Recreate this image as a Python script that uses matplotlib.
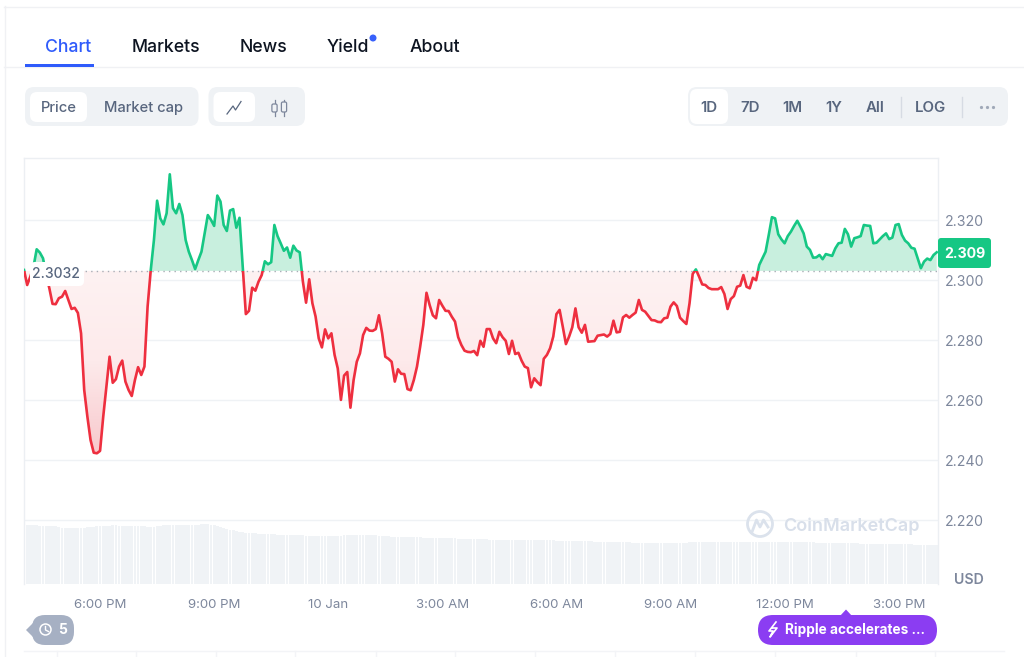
import matplotlib
matplotlib.use("Agg")
import matplotlib.pyplot as plt
import matplotlib.dates as mdates
import numpy as np
import pandas as pd

from matplotlib.colors import LinearSegmentedColormap
from matplotlib.patches import Circle, FancyBboxPatch, PathPatch, Polygon, Rectangle
from matplotlib.path import Path

plt.rcParams['font.family'] = ['Inter', 'DejaVu Sans']

# Price, one value every 5 minutes from 16:00
prices = [
    2.3035, 2.2985, 2.3013, 2.3046, 2.3104, 2.3093, 2.3074, 2.3018, 2.2974, 2.2922, 2.2921, 2.2941,
    2.2946, 2.2965, 2.2935, 2.2905, 2.2909, 2.2892, 2.2824, 2.2635, 2.2546, 2.2468, 2.2426, 2.2424,
    2.2432, 2.2546, 2.2646, 2.2746, 2.2659, 2.2671, 2.2713, 2.2733, 2.2663, 2.2635, 2.2615, 2.2668,
    2.2711, 2.2685, 2.2713, 2.2913, 2.3035, 2.3135, 2.3266, 2.3207, 2.3187, 2.3224, 2.3354, 2.3241,
    2.3224, 2.3255, 2.3218, 2.3135, 2.3096, 2.3068, 2.3038, 2.3068, 2.3096, 2.3157, 2.3218, 2.3202,
    2.3182, 2.3283, 2.3263, 2.3185, 2.3165, 2.3233, 2.3238, 2.3176, 2.3209, 2.3046, 2.2888, 2.2899,
    2.2976, 2.2966, 2.2996, 2.3018, 2.3064, 2.3054, 2.3061, 2.3185, 2.3148, 2.3124, 2.3099, 2.3110,
    2.3076, 2.3116, 2.3100, 2.3094, 2.2996, 2.2926, 2.3004, 2.2924, 2.2880, 2.2807, 2.2777, 2.2837,
    2.2807, 2.2824, 2.2752, 2.2707, 2.2602, 2.2683, 2.2695, 2.2576, 2.2668, 2.2729, 2.2757, 2.2818,
    2.2842, 2.2833, 2.2832, 2.2838, 2.2884, 2.2824, 2.2746, 2.2739, 2.2729, 2.2663, 2.2704, 2.2689,
    2.2688, 2.2638, 2.2634, 2.2668, 2.2713, 2.2779, 2.2852, 2.2959, 2.2918, 2.2884, 2.2874, 2.2935,
    2.2916, 2.2899, 2.2898, 2.2879, 2.2863, 2.2811, 2.2785, 2.2766, 2.2762, 2.2761, 2.2765, 2.2751,
    2.2799, 2.2779, 2.2838, 2.2838, 2.2807, 2.2791, 2.2829, 2.2811, 2.2799, 2.2755, 2.2799, 2.2755,
    2.2759, 2.2733, 2.2713, 2.2708, 2.2644, 2.2674, 2.2661, 2.2651, 2.2739, 2.2752, 2.2774, 2.2813,
    2.2888, 2.2902, 2.2846, 2.2788, 2.2813, 2.2844, 2.2907, 2.2844, 2.2826, 2.2852, 2.2796, 2.2797,
    2.2798, 2.2816, 2.2818, 2.2820, 2.2813, 2.2822, 2.2866, 2.2827, 2.2829, 2.2877, 2.2885, 2.2876,
    2.2885, 2.2893, 2.2935, 2.2902, 2.2896, 2.2882, 2.2868, 2.2867, 2.2862, 2.2861, 2.2874, 2.2876,
    2.2913, 2.2927, 2.2915, 2.2876, 2.2865, 2.2855, 2.2924, 2.3022, 2.3037, 2.3013, 2.2987, 2.2985,
    2.2975, 2.2971, 2.2971, 2.2971, 2.2978, 2.2955, 2.2905, 2.2938, 2.2948, 2.2979, 2.2983, 2.3018,
    2.2979, 2.2974, 2.3009, 2.3001, 2.3052, 2.3074, 2.3096, 2.3152, 2.3211, 2.3207, 2.3154, 2.3137,
    2.3124, 2.3148, 2.3163, 2.3182, 2.3199, 2.3179, 2.3157, 2.3113, 2.3102, 2.3076, 2.3077, 2.3085,
    2.3071, 2.3088, 2.3085, 2.3082, 2.3107, 2.3124, 2.3126, 2.3172, 2.3154, 2.3113, 2.3141, 2.3144,
    2.3148, 2.3185, 2.3183, 2.3182, 2.3124, 2.3126, 2.3137, 2.3148, 2.3157, 2.3138, 2.3143, 2.3185,
    2.3188, 2.3152, 2.3133, 2.3124, 2.3109, 2.3106, 2.3074, 2.3041, 2.3063, 2.3073, 2.3068, 2.3085,
    2.3094,
]

# Volume strip at the bottom, same 5 minute steps (billions, estimated)
volumes = [
    5.9, 5.9, 5.9, 5.9, 5.9, 5.8, 5.8, 5.8, 5.8, 5.8, 5.8, 5.7,
    5.6, 5.6, 5.6, 5.6, 5.6, 5.6, 5.6, 5.6, 5.7, 5.7, 5.7, 5.8,
    5.8, 5.8, 5.8, 5.8, 5.9, 5.9, 5.8, 5.8, 5.8, 5.8, 5.8, 5.8,
    5.8, 5.8, 5.8, 5.7, 5.7, 5.7, 5.8, 5.8, 5.9, 5.9, 5.9, 5.9,
    5.9, 5.9, 5.9, 5.9, 5.9, 5.9, 5.9, 5.9, 6.0, 6.0, 6.0, 5.9,
    5.9, 5.8, 5.7, 5.6, 5.5, 5.4, 5.4, 5.3, 5.2, 5.2, 5.1, 5.1,
    5.1, 5.1, 5.0, 5.0, 5.0, 5.0, 5.0, 5.0, 4.9, 4.9, 4.9, 4.9,
    4.9, 4.9, 4.9, 4.9, 4.9, 4.8, 4.8, 4.8, 4.8, 4.8, 4.8, 4.8,
    4.8, 4.8, 4.8, 4.8, 4.8, 4.9, 4.9, 4.9, 4.9, 4.9, 4.9, 4.9,
    4.9, 4.9, 4.9, 4.9, 4.8, 4.8, 4.8, 4.8, 4.7, 4.7, 4.7, 4.7,
    4.7, 4.7, 4.7, 4.7, 4.7, 4.7, 4.6, 4.6, 4.6, 4.6, 4.6, 4.6,
    4.6, 4.6, 4.6, 4.6, 4.6, 4.5, 4.5, 4.5, 4.5, 4.5, 4.5, 4.5,
    4.5, 4.5, 4.5, 4.4, 4.4, 4.4, 4.4, 4.4, 4.4, 4.4, 4.4, 4.4,
    4.4, 4.4, 4.4, 4.4, 4.4, 4.4, 4.4, 4.4, 4.4, 4.4, 4.4, 4.4,
    4.3, 4.3, 4.3, 4.3, 4.3, 4.3, 4.3, 4.3, 4.3, 4.3, 4.3, 4.3,
    4.2, 4.2, 4.2, 4.2, 4.2, 4.2, 4.2, 4.2, 4.2, 4.2, 4.2, 4.2,
    4.1, 4.1, 4.1, 4.1, 4.1, 4.1, 4.1, 4.1, 4.1, 4.1, 4.1, 4.1,
    4.1, 4.1, 4.1, 4.1, 4.1, 4.1, 4.2, 4.2, 4.2, 4.2, 4.2, 4.2,
    4.2, 4.2, 4.2, 4.2, 4.2, 4.2, 4.2, 4.2, 4.2, 4.2, 4.2, 4.2,
    4.2, 4.2, 4.2, 4.2, 4.2, 4.2, 4.2, 4.2, 4.2, 4.2, 4.2, 4.2,
    4.2, 4.2, 4.2, 4.2, 4.2, 4.2, 4.2, 4.2, 4.2, 4.2, 4.1, 4.1,
    4.1, 4.1, 4.1, 4.1, 4.1, 4.1, 4.1, 4.1, 4.1, 4.1, 4.1, 4.1,
    4.0, 4.0, 4.0, 4.0, 4.0, 4.0, 4.0, 4.0, 4.0, 4.0, 4.0, 4.0,
    4.0, 4.0, 4.0, 4.0, 4.0, 3.9, 3.9, 3.9, 3.9, 3.9, 3.9, 3.9,
    3.9,
]

base_price = 2.3032
last_price = "2.309"
y_ticks = [2.22, 2.24, 2.26, 2.28, 2.30, 2.32]
x_tick_times = ["2025-01-09 18:00", "2025-01-09 21:00", "2025-01-10 00:00", "2025-01-10 03:00",
                "2025-01-10 06:00", "2025-01-10 09:00", "2025-01-10 12:00", "2025-01-10 15:00"]
x_tick_labels = ["6:00 PM", "9:00 PM", "10 Jan", "3:00 AM", "6:00 AM", "9:00 AM", "12:00 PM", "3:00 PM"]

tabs = ["Chart", "Markets", "News", "Yield", "About"]
ranges = ["1D", "7D", "1M", "1Y", "All", "LOG"]

GREEN = "#16c784"
RED = "#ee2f3f"
GREY = "#58667e"
TICK = "#7d879c"
GRID = "#eff2f5"

W, H = 1024, 657
fig = plt.figure(figsize=(W / 100, H / 100), dpi=100)
fig.patch.set_facecolor("white")

# Volume strip and price share one rectangle, px 24-938 / 158-584
rect = [24 / W, 1 - 584 / H, 914 / W, 426 / H]
ax_vol = fig.add_axes(rect)
ax = fig.add_axes(rect, sharex=ax_vol)
ax.patch.set_visible(False)

times = pd.date_range("2025-01-09 16:00", periods=len(prices), freq="5min")
xnum = mdates.date2num(times)
prices = np.array(prices)

x_left = xnum[0]
x_right = xnum[-1] + 2 / 1440
y_low = 2.19883
y_high = 2.34083

ax_vol.bar(xnum, volumes, width=4.4 / 1440, color="#f0f3f6", linewidth=0)
ax_vol.set_ylim(0, 42.6)
ax_vol.axis("off")

# Fills either side of the opening price
ax.fill_between(xnum, prices, base_price, where=prices >= base_price, interpolate=True,
                color="#c8efde", linewidth=0, zorder=1)
below = ax.fill_between(xnum, prices, base_price, where=prices <= base_price, interpolate=True,
                        color="none", linewidth=0, zorder=1)
red_path = Path.make_compound_path(*below.get_paths())
red_cmap = LinearSegmentedColormap.from_list("redfade", ["#f8c9cd", "#fdeaeb", "#fef2f2"])
grad = ax.imshow(np.linspace(0, 1, 128).reshape(-1, 1), cmap=red_cmap, aspect="auto", origin="lower",
                 extent=[x_left, x_right, 2.2424, base_price], zorder=1)
grad.set_clip_path(PathPatch(red_path, transform=ax.transData))

for tick in y_ticks:
    ax.axhline(tick, color=GRID, linewidth=1, zorder=0.5)
ax.axhline(base_price, color="#a8adb5", linewidth=1, linestyle=(0, (1, 3)), zorder=2)

# Line changes colour at the opening price
up_line, = ax.plot(xnum, prices, color=GREEN, linewidth=1.9, zorder=3, solid_joinstyle="round")
down_line, = ax.plot(xnum, prices, color=RED, linewidth=1.9, zorder=3, solid_joinstyle="round")
up_line.set_clip_path(Rectangle((x_left, base_price), x_right - x_left, y_high - base_price, transform=ax.transData))
down_line.set_clip_path(Rectangle((x_left, y_low), x_right - x_left, base_price - y_low, transform=ax.transData))

ax.set_xlim(x_left, x_right)
ax.set_ylim(y_low, y_high)
ax.yaxis.tick_right()
ax.set_yticks(y_ticks)
ax.set_yticklabels(["%.3f" % v for v in y_ticks])
ax.set_xticks(mdates.date2num(pd.to_datetime(x_tick_times)))
ax.set_xticklabels(x_tick_labels)
ax.tick_params(axis="y", length=0, pad=5, labelsize=10.2, labelcolor=TICK)
ax.tick_params(axis="x", length=0, pad=11, labelsize=9.5, labelcolor=TICK)
plt.setp(ax_vol.get_xticklabels(), visible=False)
for name, spine in ax.spines.items():
    spine.set_color("#eceff3")
    spine.set_linewidth(1)
    spine.set_visible(name != "bottom")

# Everything around the chart, in pixel coordinates
ui = fig.add_axes([0, 0, 1, 1])
ui.set_xlim(0, W)
ui.set_ylim(H, 0)
ui.axis("off")


def box(x0, y0, x1, y1, radius, color, zorder=2):
    ui.add_patch(FancyBboxPatch((x0 + radius, y0 + radius), x1 - x0 - 2 * radius, y1 - y0 - 2 * radius,
                                boxstyle="round,pad=%f,rounding_size=%f" % (radius, radius),
                                facecolor=color, edgecolor="none", zorder=zorder))


def label(x, y, s, color=GREY, size=10, weight="medium", ha="center"):
    ui.text(x, y, s, color=color, fontsize=size, fontweight=weight, ha=ha, va="center", zorder=5)


# page lines
ui.plot([4, W], [6.5, 6.5], color="#f0f1f4", linewidth=1)
ui.plot([4.5, 4.5], [6, H], color="#f0f1f4", linewidth=1)
ui.plot([4, W], [67, 67], color="#f0f1f4", linewidth=1)
ui.plot([24, W - 20], [651, 651], color="#f3f4f7", linewidth=1)
for x in [57, 136, 216, 295, 376, 455, 535, 615, 695, 775, 856, 935]:
    ui.plot([x, x], [651, H], color="#f3f4f7", linewidth=1)

# tabs
tab_x = [68.5, 165.5, 263.5, 348, 434.5]
for x, name in zip(tab_x, tabs):
    label(x, 47.5, name, color="#2f5bfb" if name == "Chart" else "#0d1421", size=12.7)
ui.add_patch(Rectangle((25, 64), 69, 2.7, facecolor="#2f5bfb", edgecolor="none", zorder=3))
ui.add_patch(Circle((373, 38), 3.5, facecolor="#3861fb", edgecolor="none", zorder=3))

# price / market cap toggle
box(25, 87, 198.5, 126, 9, GRID)
box(30, 92, 87, 122, 7, "white", 3)
label(58.5, 108, "Price", size=10.6)
label(143, 108, "Market cap", size=10.6)

# line / candle toggle
box(208.5, 87, 305, 126, 9, GRID)
box(213.5, 92, 255, 122, 7, "white", 3)
ui.plot([227, 233, 235.5, 241], [114, 106, 110, 101.5], color=GREY, linewidth=0.9, zorder=5)
for cx, y0, y1, t0, t1 in [(274.5, 104, 112, 100, 116), (284, 102, 112, 100, 116)]:
    ui.plot([cx, cx], [t0, t1], color="#7d879c", linewidth=0.9, zorder=4)
    ui.add_patch(FancyBboxPatch((cx - 2.6, y0), 5.2, y1 - y0, boxstyle="round,pad=0,rounding_size=1.5",
                                facecolor=GRID, edgecolor="#7d879c", linewidth=0.9, zorder=5))

# range buttons
box(688, 87, 1008, 126, 9, GRID)
box(690, 89, 728, 124, 7, "white", 3)
for x, name in zip([709, 750, 792.5, 834, 875, 931], ranges):
    label(x, 108, name, size=10.8, weight="semibold")
ui.plot([900.5, 900.5], [97, 117], color="#d6dbe3", linewidth=1, zorder=4)
ui.plot([962, 962], [97, 117], color="#d6dbe3", linewidth=1, zorder=4)
ui.plot([981, 987, 993], [107, 107, 107], linestyle="none", marker="o", markersize=1.3, color="#a0a9b8", zorder=5)

# opening price tag and current price tag
box(30, 262, 84, 286, 5, "white", 4)
label(55.5, 274, "%.4f" % base_price, size=10, weight="medium")
box(938, 238, 991, 268, 3, GREEN, 4)
label(964.5, 254, last_price, color="white", size=10.2, weight="bold")
label(968.5, 580, "USD", color=TICK, size=10.2, weight="semibold")

# watermark
ui.add_patch(Circle((760, 524), 12.5, facecolor="none", edgecolor="#dbe2ec", linewidth=2.0, zorder=4))
ui.plot([752, 756.5, 760, 763.5, 768], [532, 520, 527, 520, 527], color="#dbe2ec", linewidth=2.0, zorder=4)
label(851.5, 526, "CoinMarketCap", color="#d8dfea", size=13, weight="semibold")

# history badge
box(32, 615, 74, 645, 13, "#a6b0c3")
ui.add_patch(Polygon([[26, 630], [36, 620], [36, 640]], closed=True, facecolor="#a6b0c3", edgecolor="none", zorder=2))
ui.add_patch(Circle((45.5, 629.5), 5.5, facecolor="none", edgecolor="white", linewidth=1.1, zorder=4))
ui.plot([45.5, 45.5, 48.5], [626.5, 630, 631.5], color="white", linewidth=1, zorder=4)
label(63, 629.5, "5", color="white", size=10, weight="bold")

# news pill
box(758, 615, 937, 645, 15, "#8b3df2")
ui.add_patch(Polygon([[840, 616], [846, 609.5], [852, 616]], closed=True, facecolor="#8b3df2", edgecolor="none", zorder=2))
ui.plot([776, 769, 773, 770, 777, 772.5], [622, 631, 631, 637, 628, 628], color="white", linewidth=1.2, zorder=4)
label(785, 630, "Ripple accelerates ...", color="white", size=9.8, weight="bold", ha="left")

fig.savefig("out.png", dpi=100)
